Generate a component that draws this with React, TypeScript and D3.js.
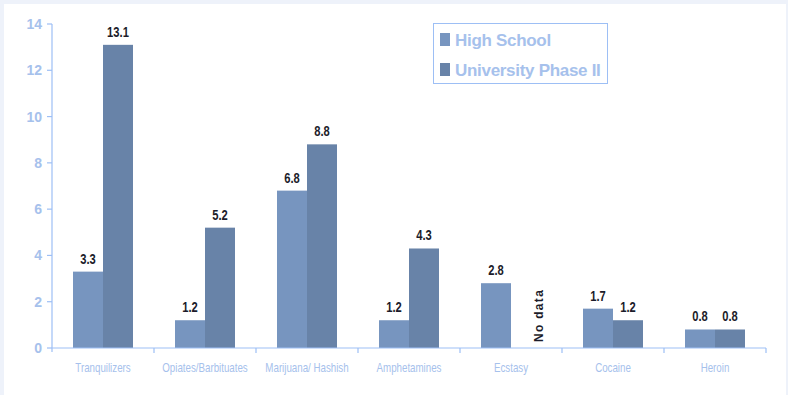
import React from 'react';
import * as d3 from 'd3';

// data
const categories = ['Tranquilizers', 'Opiates/Barbituates', 'Marijuana/ Hashish', 'Amphetamines', 'Ecstasy', 'Cocaine', 'Heroin'];
const highSchool: (number | null)[] = [3.3, 1.2, 6.8, 1.2, 2.8, 1.7, 0.8];
const university: (number | null)[] = [13.1, 5.2, 8.8, 4.3, null, 1.2, 0.8];
const seriesNames = ['High School', 'University Phase II'];
const yTicks = [0, 2, 4, 6, 8, 10, 12, 14];

const W = 788;
const H = 395;
const margin = { left: 52, right: 22, top: 24, bottom: 47 };

const colors = ['#7795bf', '#6883a8'];
const axisColor = '#9dbff5';
const labelBlue = '#a6c1ec';

const App = () => {
  const x = d3.scaleBand<string>()
    .domain(categories)
    .range([margin.left, W - margin.right])
    .paddingInner(0)
    .paddingOuter(0);

  const y = d3.scaleLinear()
    .domain([0, 14])
    .range([H - margin.bottom, margin.top]);

  // two 30px bars centred in each 102px category
  const inner = d3.scaleBand<string>()
    .domain(seriesNames)
    .range([0, x.bandwidth()])
    .paddingOuter(0.7)
    .paddingInner(0);

  const series = [highSchool, university];
  const y0 = y(0);

  return (
    <svg width={W} height={H} style={{ position: 'absolute', left: 0, top: 0, fontFamily: 'Liberation Sans, Arial, sans-serif' }}>
      <rect x={0} y={0} width={W} height={H} fill="#eef2fa" />
      <rect x={4} y={4} width={W - 6} height={H - 4} fill="#ffffff" />

      {/* bars */}
      {series.map((vals, si) =>
        vals.map((v, i) => {
          if (v === null) return null;
          const bx = (x(categories[i]) as number) + (inner(seriesNames[si]) as number);
          return (
            <g key={`b${si}-${i}`}>
              <rect x={bx} y={y(v)} width={inner.bandwidth()} height={y0 - y(v)} fill={colors[si]} />
              {/* narrow bold value label */}
              <text
                transform={`translate(${bx + inner.bandwidth() / 2},${y(v) - 8}) scale(0.8,1)`}
                textAnchor="middle"
                fontSize={14}
                fontWeight="bold"
                fill="#1c1c2a"
              >
                {v.toFixed(1)}
              </text>
            </g>
          );
        })
      )}

      {/* no data note */}
      {university.map((v, i) => {
        if (v !== null) return null;
        const bx = (x(categories[i]) as number) + (inner(seriesNames[1]) as number) + inner.bandwidth() / 2 + 17;
        return (
          <text
            key={`nd${i}`}
            transform={`translate(${bx},${y0 - 6}) rotate(-90)`}
            fontSize={12}
            fontWeight="bold"
            letterSpacing={1.3}
            fill="#1c1c2a"
          >
            No data
          </text>
        );
      })}

      {/* y axis */}
      <line x1={margin.left} x2={margin.left} y1={margin.top} y2={y0 + 4} stroke={axisColor} strokeWidth={1.2} />
      {yTicks.map(t => (
        <g key={`y${t}`}>
          <line x1={margin.left - 5} x2={margin.left} y1={y(t)} y2={y(t)} stroke={axisColor} strokeWidth={1.2} />
          <text x={margin.left - 10} y={y(t) + 5} textAnchor="end" fontSize={14} fontWeight="bold" fill={labelBlue}>
            {t}
          </text>
        </g>
      ))}

      {/* x axis */}
      <line x1={margin.left} x2={W - margin.right} y1={y0} y2={y0} stroke={axisColor} strokeWidth={1.2} />
      {categories.map((c, i) => (
        <line
          key={`xt${i}`}
          x1={(x(c) as number) + x.bandwidth()}
          x2={(x(c) as number) + x.bandwidth()}
          y1={y0}
          y2={y0 + 5}
          stroke={axisColor}
          strokeWidth={1.2}
        />
      ))}
      {categories.map(c => (
        <text
          key={`xl${c}`}
          transform={`translate(${(x(c) as number) + x.bandwidth() / 2},${y0 + 24}) scale(0.78,1)`}
          textAnchor="middle"
          fontSize={12.5}
          fill={labelBlue}
        >
          {c}
        </text>
      ))}

      {/* legend */}
      <rect x={433.5} y={23.5} width={174} height={60} fill="#ffffff" stroke={axisColor} strokeWidth={1} />
      {seriesNames.map((s, i) => (
        <g key={`lg${i}`}>
          <rect x={440} y={33 + i * 30} width={10} height={13} fill={colors[i]} />
          <text x={455} y={46 + i * 30} fontSize={17} fontWeight="bold" letterSpacing={-0.3} fill={labelBlue}>
            {s}
          </text>
        </g>
      ))}
    </svg>
  );
};

export default App;
